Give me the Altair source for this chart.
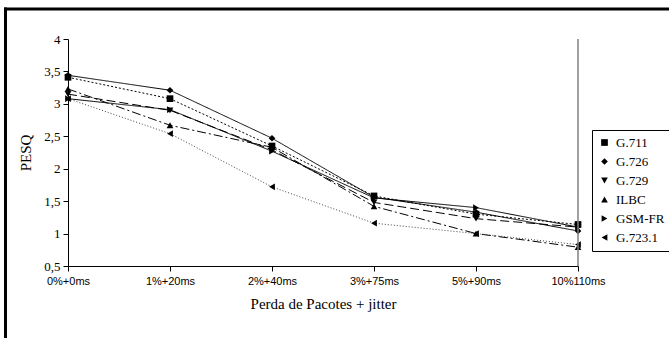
import altair as alt
import pandas as pd

categories = ["0%+0ms", "1%+20ms", "2%+40ms", "3%+75ms", "5%+90ms", "10%110ms"]
series = ["G.711", "G.726", "G.729", "ILBC", "GSM-FR", "G.723.1"]
g711 = [3.41, 3.08, 2.35, 1.58, 1.30, 1.14]
g726 = [3.44, 3.21, 2.47, 1.56, 1.33, 1.04]
g729 = [3.15, 2.90, 2.29, 1.48, 1.23, 1.10]
ilbc = [3.23, 2.67, 2.33, 1.42, 1.00, 0.79]
gsmfr = [3.08, 2.91, 2.27, 1.55, 1.40, 1.10]
g7231 = [3.08, 2.54, 1.72, 1.16, 1.00, 0.83]
y_ticks = [0.5, 1, 1.5, 2, 2.5, 3, 3.5, 4]

values = [g711, g726, g729, ilbc, gsmfr, g7231]
rows = []
for s, vals in zip(series, values):
    for c, v in zip(categories, vals):
        rows.append({"cat": c, "series": s, "codec": s, "pesq": v})
df = pd.DataFrame(rows)

serif = "Liberation Serif"
sans = "Liberation Sans"

x_enc = alt.X(
    "cat:N",
    sort=categories,
    scale=alt.Scale(type="point", padding=0),
    axis=alt.Axis(
        title="Perda de Pacotes + jitter",
        titleFont=serif, titleFontSize=15, titleFontWeight="normal", titleColor="black",
        titlePadding=10,
        labelAngle=0, labelFont=sans, labelFontSize=11, labelColor="black", labelPadding=4,
        tickColor="black", tickSize=5, domainColor="black", grid=False,
    ),
)
y_enc = alt.Y(
    "pesq:Q",
    scale=alt.Scale(domain=[0.5, 4], nice=False, zero=False),
    axis=alt.Axis(
        title="PESQ",
        titleFont=serif, titleFontSize=15, titleFontWeight="normal", titleColor="black",
        titlePadding=10,
        values=y_ticks,
        labelExpr="replace(toString(datum.value), '.', ',')",
        labelFont=serif, labelFontSize=13, labelColor="black", labelPadding=3,
        tickColor="black", tickSize=5, domainColor="black", grid=False,
    ),
)

lines = alt.Chart(df).mark_line(strokeWidth=1).encode(
    x=x_enc,
    y=y_enc,
    detail="series:N",
    color=alt.Color(
        "series:N",
        scale=alt.Scale(domain=series, range=["black", "black", "black", "black", "black", "#444444"]),
        legend=None,
    ),
    strokeDash=alt.StrokeDash(
        "series:N",
        scale=alt.Scale(
            domain=series,
            range=[[2, 2], [1, 0], [9, 4], [9, 3, 2, 3], [1, 0], [1, 2]],
        ),
        legend=None,
    ),
)

points = alt.Chart(df).mark_point(filled=True, color="black", opacity=1, size=45).encode(
    x=x_enc,
    y=y_enc,
    shape=alt.Shape(
        "codec:N",
        scale=alt.Scale(
            domain=series,
            range=["square", "diamond", "triangle-down", "triangle-up", "triangle-right", "triangle-left"],
        ),
        legend=alt.Legend(title=None),
    ),
)

frame_df = pd.DataFrame({"k": [0]})
right_edge = alt.Chart(frame_df).mark_rule(color="#808080", strokeWidth=1.5).encode(
    x=alt.value(510), y=alt.value(0), y2=alt.value(227)
)
frame_top = alt.Chart(frame_df).mark_rule(color="black", strokeWidth=3).encode(
    x=alt.value(-64), x2=alt.value(610), y=alt.value(-30)
)
frame_left = alt.Chart(frame_df).mark_rule(color="black", strokeWidth=3).encode(
    x=alt.value(-62.5), y=alt.value(-31.5), y2=alt.value(310)
)

chart = (
    alt.layer(lines, points, right_edge, frame_top, frame_left)
    .resolve_legend(shape="independent", color="independent", strokeDash="independent")
    .properties(
        width=510,
        height=227,
        autosize=alt.AutoSizeParams(type="none"),
        padding={"left": 68, "top": 39, "right": 91, "bottom": 72},
        background="white",
    )
    .configure_view(stroke=None)
    .configure_legend(
        orient="none",
        legendX=524,
        legendY=91,
        strokeColor="black",
        fillColor="white",
        padding=6,
        cornerRadius=0,
        labelFont=serif,
        labelFontSize=13,
        labelColor="black",
        symbolSize=45,
        symbolFillColor="black",
        symbolStrokeColor="black",
        rowPadding=5,
        labelOffset=5,
    )
)

chart.save("out.html", embed_options={"renderer": "svg", "actions": False})
